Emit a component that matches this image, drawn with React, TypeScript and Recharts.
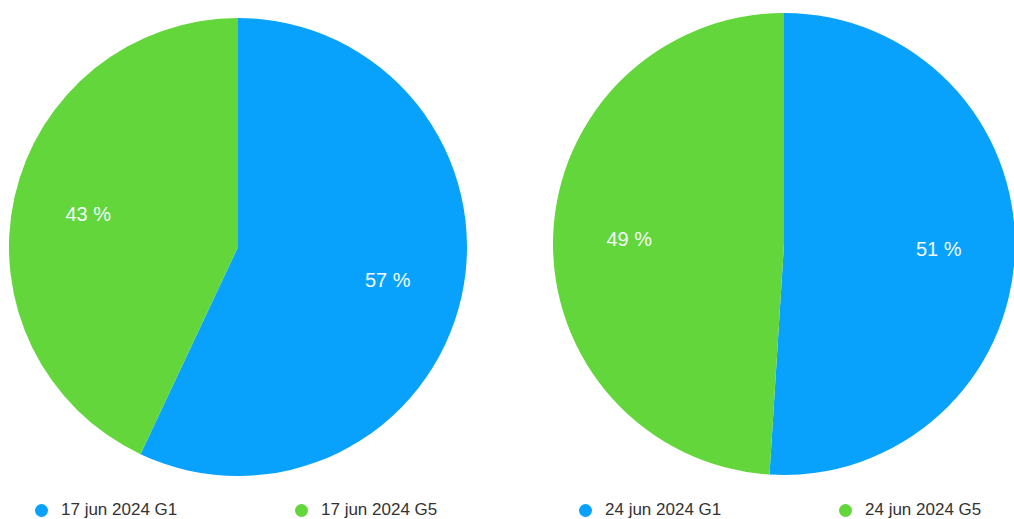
import React from 'react';
import { PieChart, Pie, Cell, Legend } from 'recharts';

const leftNames = ['17 jun 2024 G1', '17 jun 2024 G5'];
const leftValues = [57, 43];
const rightNames = ['24 jun 2024 G1', '24 jun 2024 G5'];
const rightValues = [51, 49];
const colors = ['#08a2fd', '#62d63a'];

const RADIAN = Math.PI / 180;
const FONT = '"Liberation Sans", Arial, Helvetica, sans-serif';

const renderLabel = (props: any) => {
  const { cx, cy, midAngle, outerRadius, value } = props;
  const r = outerRadius * 0.67;
  const x = cx + r * Math.cos(-midAngle * RADIAN);
  const y = cy + r * Math.sin(-midAngle * RADIAN);
  return (
    <text x={x} y={y} fill="#f4fbff" fontSize={20} fontFamily={FONT} textAnchor="middle" dominantBaseline="central">
      {value} %
    </text>
  );
};

const renderLegend = (props: any) => {
  const { payload } = props;
  return (
    <div style={{ display: 'flex', fontFamily: FONT }}>
      {payload.map((p: any, i: number) => (
        <div key={i} style={{ width: 260, flexShrink: 0, display: 'flex', alignItems: 'center' }}>
          <span style={{ display: 'inline-block', width: 13, height: 13, borderRadius: '50%', background: p.color, marginRight: 13 }} />
          <span style={{ fontSize: 17, color: '#333333' }}>{p.value}</span>
        </div>
      ))}
    </div>
  );
};

type PanelProps = {
  names: string[];
  values: number[];
  cx: number;
  cy: number;
  radius: number;
  legendLeft: number;
};

const Panel: React.FC<PanelProps> = ({ names, values, cx, cy, radius, legendLeft }) => {
  const data = names.map((name, i) => ({ name, value: values[i] }));
  return (
    <PieChart width={507} height={519} margin={{ top: 0, right: 0, bottom: 0, left: 0 }}>
      <Pie
        data={data}
        dataKey="value"
        nameKey="name"
        cx={cx}
        cy={cy}
        outerRadius={radius}
        startAngle={90}
        endAngle={-270}
        stroke="none"
        label={renderLabel}
        labelLine={false}
        isAnimationActive={false}
      >
        {data.map((d, i) => (
          <Cell key={d.name} fill={colors[i]} />
        ))}
      </Pie>
      <Legend
        content={renderLegend}
        wrapperStyle={{ position: 'absolute', left: legendLeft, top: 500, width: 540 }}
      />
    </PieChart>
  );
};

const App: React.FC = () => {
  return (
    <div style={{ position: 'absolute', left: 0, top: 0, width: 1014, height: 519, background: '#ffffff', overflow: 'hidden' }}>
      <div style={{ position: 'absolute', left: 0, top: 0 }}>
        <Panel names={leftNames} values={leftValues} cx={238} cy={247} radius={229} legendLeft={35} />
      </div>
      <div style={{ position: 'absolute', left: 507, top: 0 }}>
        <Panel names={rightNames} values={rightValues} cx={277} cy={244} radius={231} legendLeft={72} />
      </div>
    </div>
  );
};

export default App;
